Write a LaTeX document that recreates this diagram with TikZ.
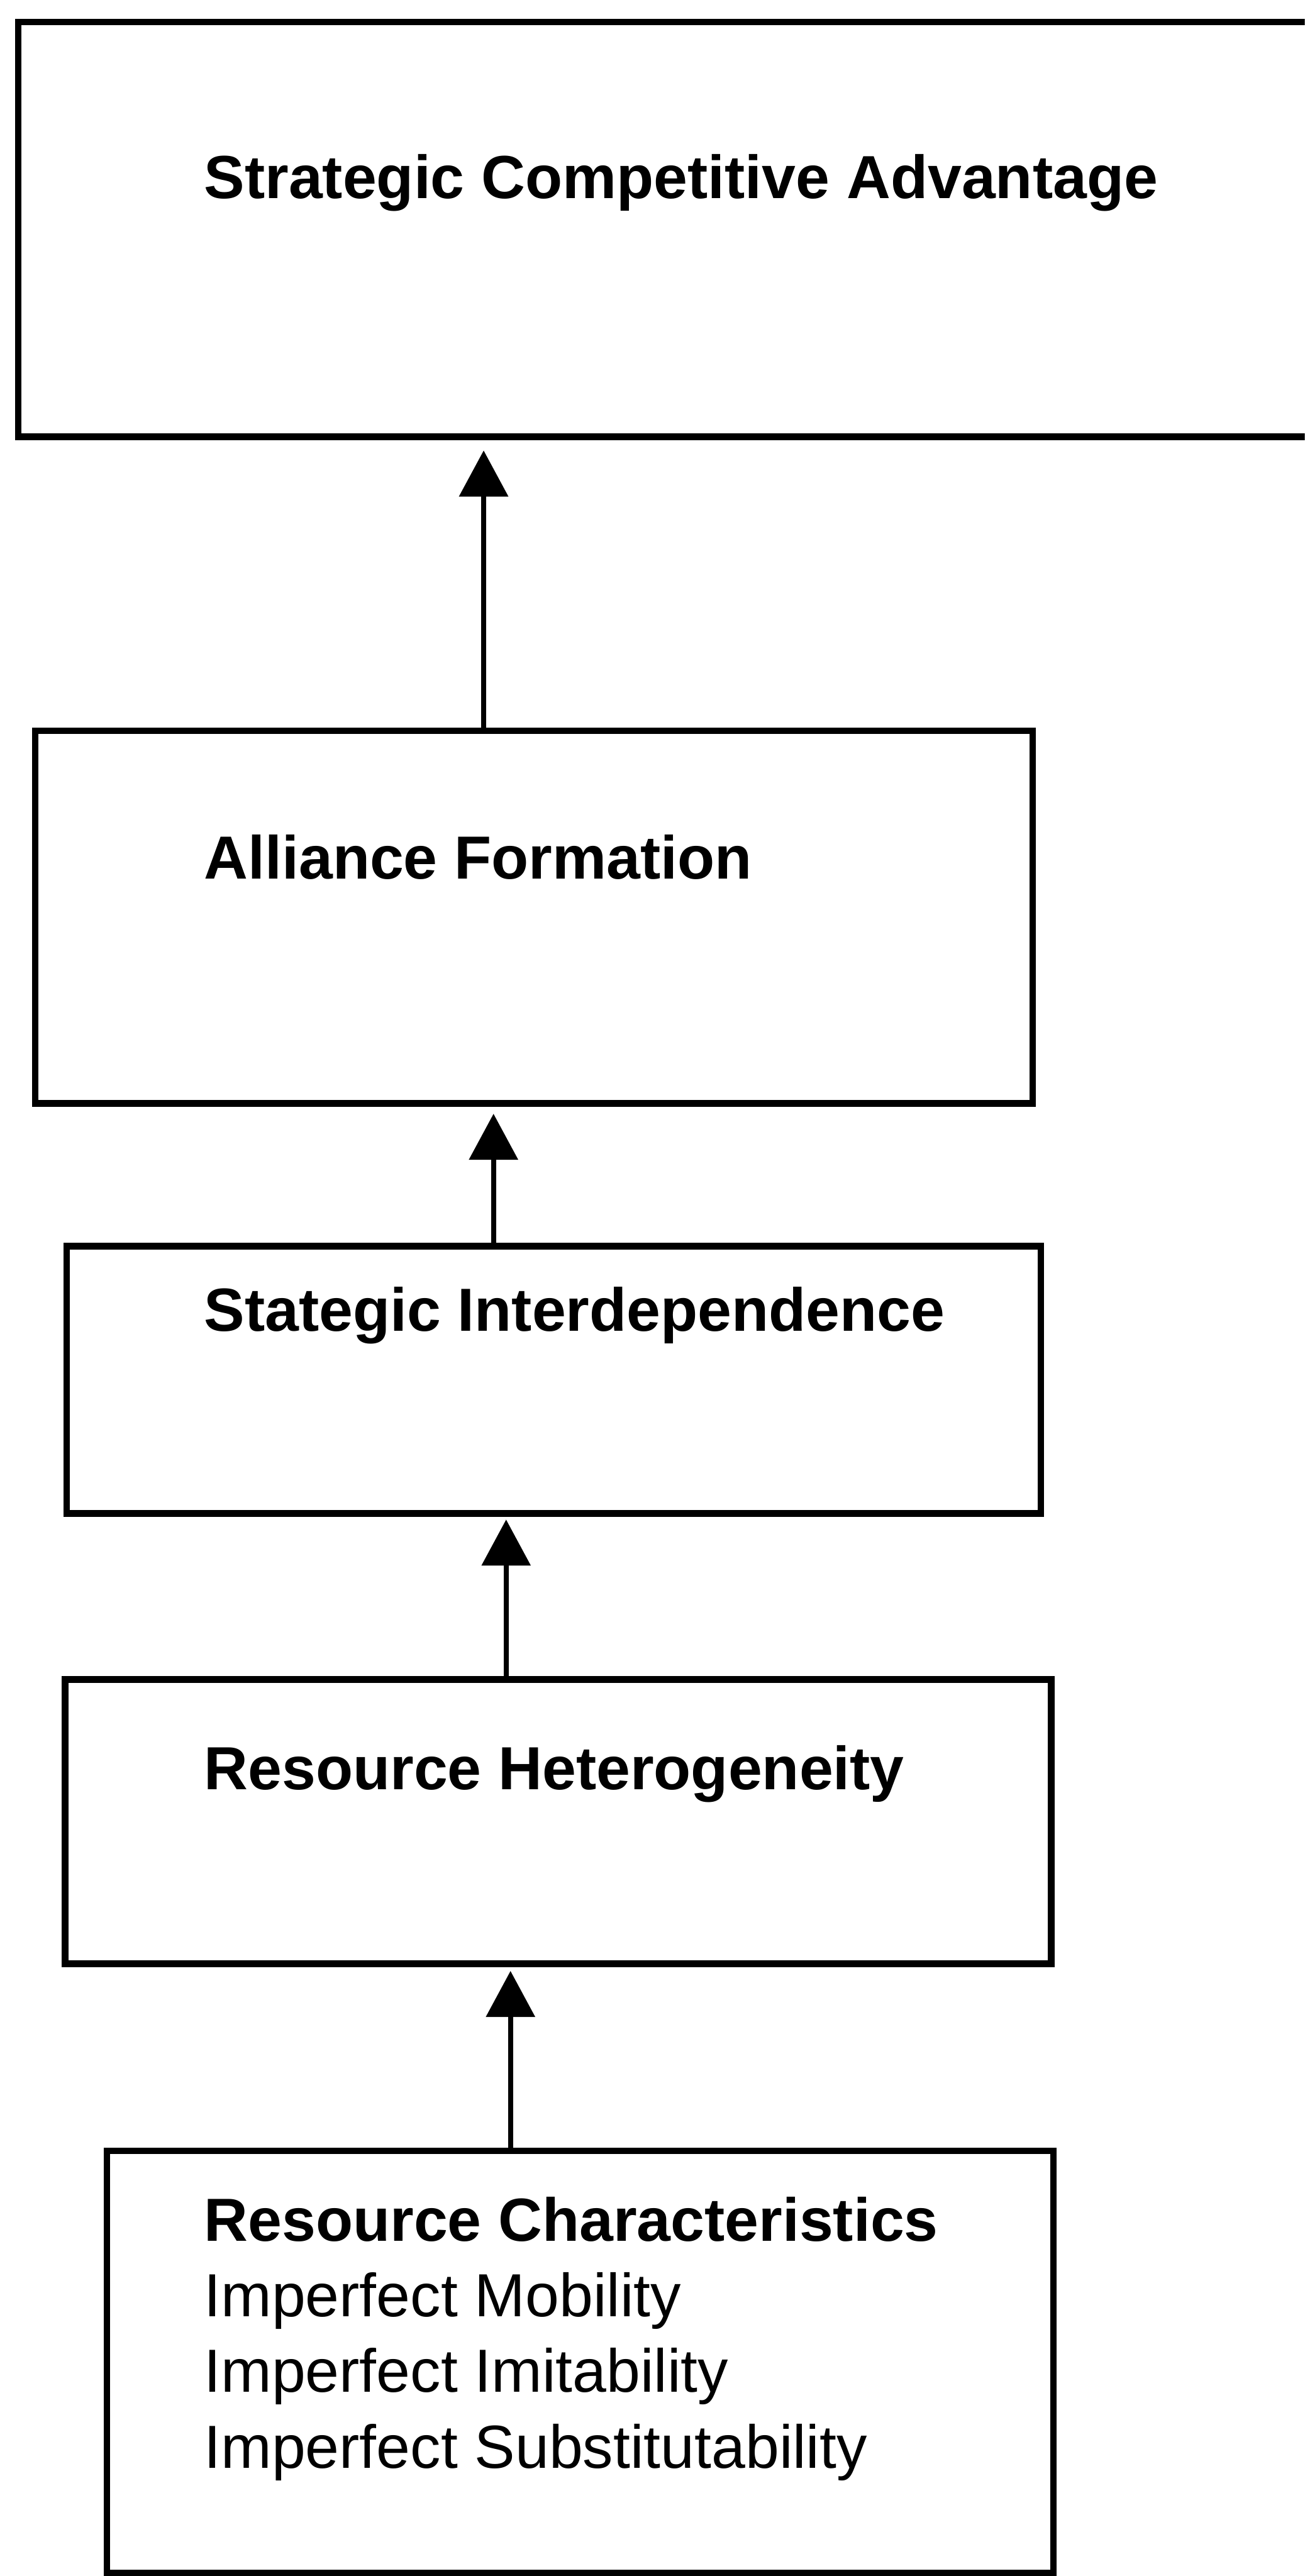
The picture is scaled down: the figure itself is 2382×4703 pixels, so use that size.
\documentclass[tikz,border=0pt]{standalone}
\usepackage{fontspec}
\setmainfont{Liberation Sans}
\usetikzlibrary{arrows.meta}
\begin{document}
\begin{tikzpicture}[x=0.01cm,y=-0.01cm,
  box/.style={draw, line width=0.12cm, inner sep=0pt, outer sep=0pt, anchor=north west},
  headtxt/.style={anchor=base west, inner sep=0pt, font=\fontsize{31.6pt}{39.3pt}\selectfont\bfseries},
  itemtxt/.style={anchor=base west, inner sep=0pt, font=\fontsize{31.6pt}{39.3pt}\selectfont},
  link/.style={line width=0.09cm, -{Triangle[length=0.84cm,width=0.88cm]}}]
\useasboundingbox (0,0) rectangle (2382,4703);
\clip (0,0) rectangle (2382,4703);

% boxes
\node[box, minimum width=24.5cm, minimum height=7.57cm] (b1) at (33,40) {};
\node[box, minimum width=18.2cm, minimum height=6.8cm] (b2) at (64,1334) {};
\node[box, minimum width=17.77cm, minimum height=4.88cm] (b3) at (122,2275) {};
\node[box, minimum width=17.99cm, minimum height=5.19cm] (b4) at (119,3066) {};
\node[box, minimum width=17.27cm, minimum height=7.70cm] (b5) at (195,3927) {};

% captions
\node[headtxt] (t1) at (372,362) {Strategic Competitive Advantage};
\node[headtxt] (t2) at (372,1605) {Alliance Formation};
\node[headtxt] (t3) at (372,2430) {Stategic Interdependence};
\node[headtxt] (t4) at (372,3267) {Resource Heterogeneity};
\node[headtxt] (t5) at (372,4091) {Resource Characteristics};
\node[itemtxt] (t6) at (372,4229) {Imperfect Mobility};
\node[itemtxt] (t7) at (372,4367) {Imperfect Imitability};
\node[itemtxt] (t8) at (372,4506) {Imperfect Substitutability};

% arrow columns
\coordinate (x1) at (883,0);
\coordinate (x2) at (901,0);
\coordinate (x3) at (924,0);
\coordinate (x4) at (932,0);

% connectors
\draw[link, shorten >=0.25cm] (b2.north -| x1) -- (b1.south -| x1);
\draw[link, shorten >=0.19cm] (b3.north -| x2) -- (b2.south -| x2);
\draw[link, shorten >=0.11cm] (b4.north -| x3) -- (b3.south -| x3);
\draw[link, shorten >=0.13cm] (b5.north -| x4) -- (b4.south -| x4);
\end{tikzpicture}
\end{document}
